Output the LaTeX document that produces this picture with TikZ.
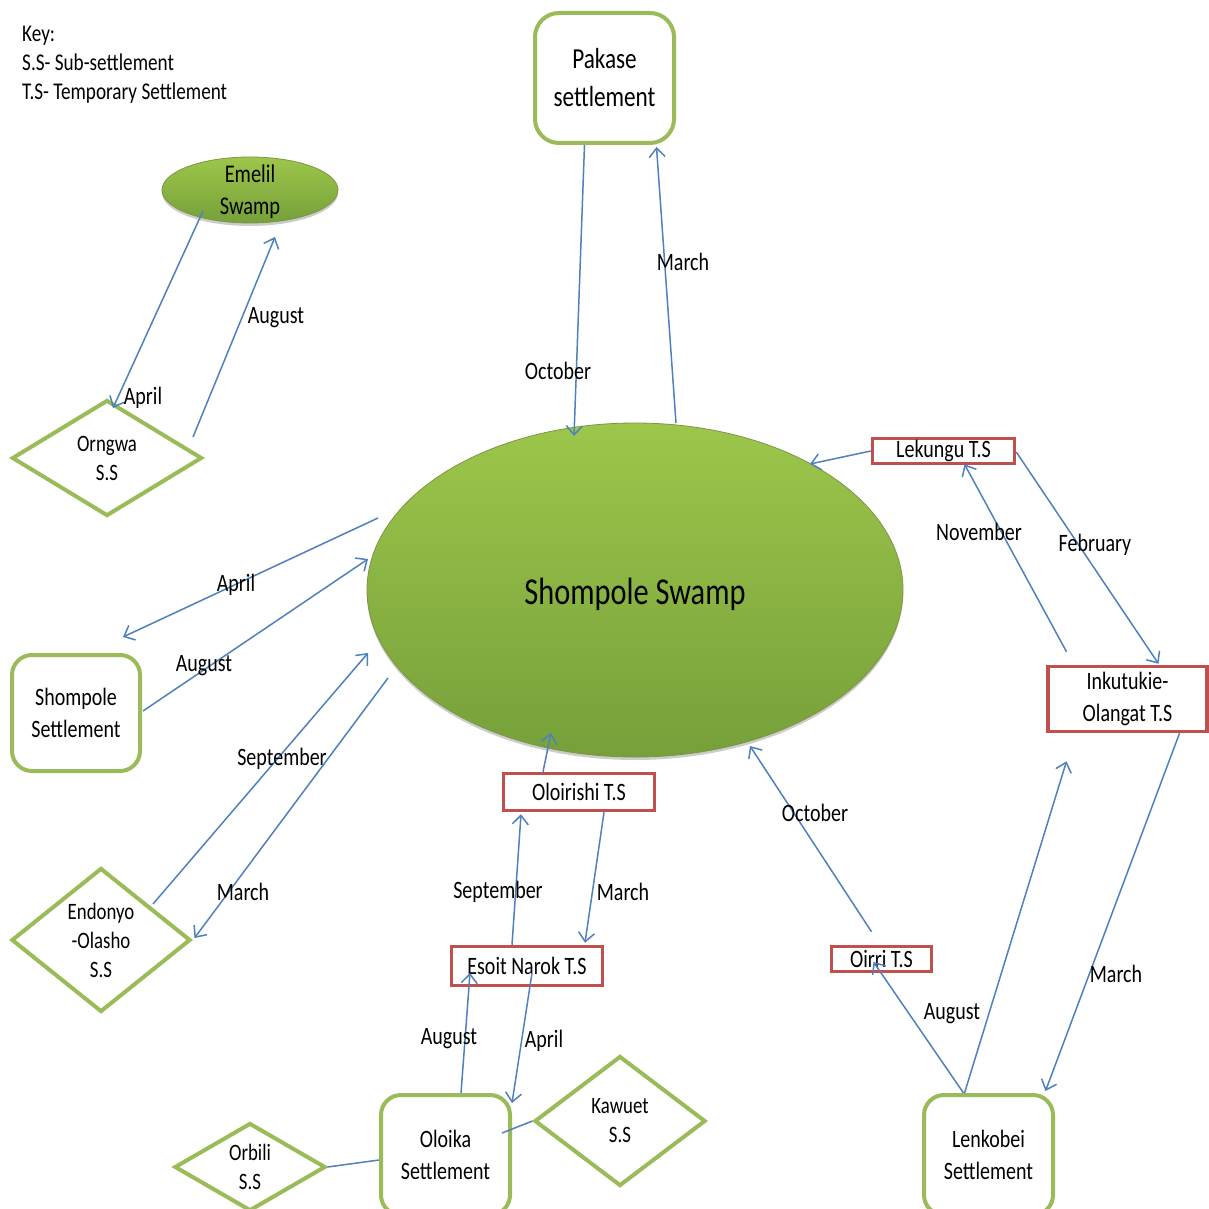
\documentclass[tikz,border=0pt]{standalone}
\usepackage{fontspec}
\setmainfont{Carlito}[FakeStretch=0.8]
\usetikzlibrary{shapes.geometric,arrows.meta,calc,shadows}
\definecolor{gborder}{HTML}{9BBB59}
\definecolor{rborder}{HTML}{C0504D}
\definecolor{ablue}{HTML}{4F81BD}
\definecolor{gtop}{HTML}{9DC64B}
\definecolor{gbot}{HTML}{76A03A}
\newcommand{\fs}[2]{\fontsize{#1}{#2}\selectfont}
\tikzset{
  settle/.style={draw=gborder, line width=4pt, rounded corners=20pt, fill=white, align=center, inner sep=0pt, font=\fs{25}{32}},
  subss/.style={draw=gborder, line width=4pt, diamond, fill=white, align=center, inner sep=0pt, font=\fs{23.5}{29}},
  tempts/.style={draw=rborder, line width=3.5pt, rectangle, fill=white, align=center, inner sep=0pt, font=\fs{25}{32}},
  swampst/.style={ellipse, draw=gborder!80!black, line width=0.8pt, top color=gtop, bottom color=gbot, inner sep=0pt,
     drop shadow={shadow xshift=0pt, shadow yshift=-3pt, opacity=0.2, fill=black}},
  swamptxt/.style={align=center, inner sep=0pt},
  lbl/.style={font=\fs{25}{30}, inner sep=0pt},
  keytxt/.style={font=\fs{24}{29}, inner sep=0pt, anchor=base west},
  mv/.style={draw=ablue, line width=1.5pt, -{Straight Barb[length=9pt,width=16pt]}},
  ln/.style={draw=ablue, line width=1.5pt}
}
\begin{document}
\begin{tikzpicture}[x=1pt,y=-1pt]
\useasboundingbox[fill=white] (0,0) rectangle (1209,1209);

% key
\node[keytxt] (k1) at (22,42) {Key:};
\node[keytxt] (k2) at (22,71) {S.S- Sub-settlement};
\node[keytxt] (k3) at (22,100) {T.S- Temporary Settlement};

% swamps
\node[swampst, minimum width=536pt, minimum height=334pt] (swamp) at (635,590) {};
\node[swamptxt, font=\fs{38}{46}] (swampname) at ($(swamp.center)+(0,4)$) {Shompole Swamp};
\node[swampst, minimum width=176pt, minimum height=66pt] (emelil) at (250,190) {};
\node[swamptxt, font=\fs{25.5}{32}] (emelilname) at ($(emelil.center)+(0,2)$) {Emelil\\Swamp};

% settlements
\node[settle, minimum width=139pt, minimum height=130pt, rounded corners=24pt, font=\fs{29}{38}] (pakase) at (604.5,78) {Pakase\\settlement};
\node[settle, minimum width=128pt, minimum height=116pt] (shset) at (76,713) {Shompole\\Settlement};
\node[settle, minimum width=129pt, minimum height=120pt] (oloika) at (445.5,1155) {Oloika\\Settlement};
\node[settle, minimum width=129pt, minimum height=120pt] (lenkobei) at (988.5,1155) {Lenkobei\\Settlement};

% sub-settlements
\node[subss, minimum width=190pt, minimum height=116pt] (orngwa) at (107,458) {Orngwa\\S.S};
\node[subss, minimum width=179pt, minimum height=144pt] (endonyo) at (101,940) {Endonyo\\-Olasho\\S.S};
\node[subss, minimum width=151pt, minimum height=88pt] (orbili) at (250,1167) {Orbili\\S.S};
\node[subss, minimum width=171pt, minimum height=130pt] (kawuet) at (620,1121) {Kawuet\\S.S};

% temporary settlements
\node[tempts, minimum width=142pt, minimum height=25pt] (lekungu) at (943.5,451) {Lekungu T.S};
\node[tempts, minimum width=159pt, minimum height=65pt] (inku) at (1127.5,699) {Inkutukie-\\Olangat T.S};
\node[tempts, minimum width=151pt, minimum height=37pt] (oloirishi) at (579,792) {Oloirishi T.S};
\node[tempts, minimum width=151pt, minimum height=39pt] (esoit) at (527,966) {Esoit Narok T.S};
\node[tempts, minimum width=100pt, minimum height=25pt] (oirri) at (881.5,959) {Oirri T.S};

% connectors
\draw[mv] ($(pakase.south)+(-20,0)$) -- ($(swamp.center)+(-61,-154)$);
\draw[mv] ($(swamp.center)+(41,-167)$) -- ($(pakase.south)+(52,2)$);
\draw[mv] ($(emelil.center)+(-47,21)$) -- ($(orngwa.north)+(6,10)$);
\draw[mv] ($(orngwa.center)+(86,-21)$) -- ($(emelil.center)+(25,47)$);
\draw[mv] ($(swamp.center)+(-257,-72)$) -- ($(shset.north)+(47,-16)$);
\draw[mv] ($(shset.east)+(1,-2)$) -- ($(swamp.center)+(-267,-31)$);
\draw[mv] ($(endonyo.center)+(52,-36)$) -- ($(swamp.center)+(-267,63)$);
\draw[mv] ($(swamp.center)+(-247,88)$) -- ($(endonyo.east)+(2,-2)$);
\draw[mv] (lekungu.west) -- ($(swamp.center)+(175,-126)$);
\draw[mv] ($(lekungu.east)+(0,1)$) -- ($(inku.north)+(31,-1)$);
\draw[mv] ($(inku.north)+(-61,-13)$) -- ($(lekungu.south)+(21,-1)$);
\draw[mv] ($(inku.south)+(52,0)$) -- ($(lenkobei.north)+(57,-2)$);
\draw[mv] ($(lenkobei.north)+(-24,0)$) -- ($(inku.south)+(-61,28)$);
\draw[mv] ($(lenkobei.north)+(-25,0)$) -- ($(oirri.center)+(-8,3)$);
\draw[mv] ($(oirri.north)+(-10,-13)$) -- ($(swamp.center)+(115,156)$);
\draw[mv] ($(oloirishi.north)+(-36,0)$) -- ($(swamp.center)+(-84,143)$);
\draw[mv] ($(esoit.north)+(-15,0)$) -- ($(oloirishi.south)+(-58,2)$);
\draw[mv] ($(oloirishi.south)+(25,0)$) -- ($(esoit.north)+(58,-2)$);
\draw[mv] ($(oloika.north)+(15.5,0)$) -- ($(esoit.center)+(-57,7)$);
\draw[mv] ($(esoit.center)+(5,7)$) -- ($(oloika.north)+(66.5,10)$);
\draw[ln] (orbili.east) -- ($(oloika.west)+(0,5)$);
\draw[ln] (kawuet.west) -- ($(oloika.east)+(-10,-22)$);

% labels
\node[lbl] (lb1) at (558,371) {October};
\node[lbl] (lb2) at (683,262) {March};
\node[lbl] (lb3) at (143,398) {April};
\node[lbl] (lb4) at (276,318) {August};
\node[lbl] (lb5) at (236,585) {April};
\node[lbl] (lb6) at (204,666) {August};
\node[lbl] (lb7) at (282,759) {September};
\node[lbl] (lb8) at (243,892) {March};
\node[lbl] (lb9) at (979,532) {November};
\node[lbl] (lb10) at (1095,545) {February};
\node[lbl] (lb11) at (1116,974) {March};
\node[lbl] (lb12) at (952,1014) {August};
\node[lbl] (lb13) at (815,813) {October};
\node[lbl] (lb14) at (498,892) {September};
\node[lbl] (lb15) at (623,892) {March};
\node[lbl] (lb16) at (449,1039) {August};
\node[lbl] (lb17) at (544,1041) {April};
\end{tikzpicture}
\end{document}
